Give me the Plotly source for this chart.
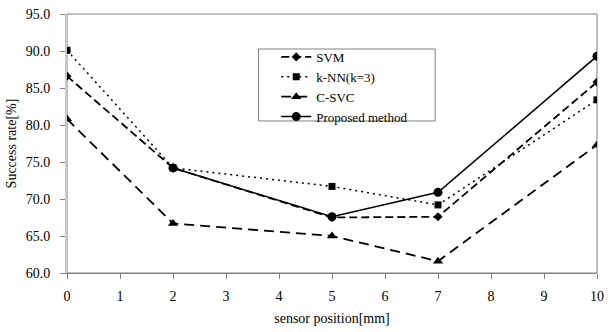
import plotly.graph_objects as go

x_all = [0, 2, 5, 7, 10]
svm = [86.6, 74.2, 67.5, 67.6, 85.8]
knn = [90.1, 74.2, 71.7, 69.2, 83.4]
csvc = [80.8, 66.7, 65.0, 61.6, 77.3]
x_prop = [2, 5, 7, 10]
proposed = [74.2, 67.6, 70.9, 89.3]

y_ticks = [60, 65, 70, 75, 80, 85, 90, 95]
x_ticks = list(range(0, 11))

font_family = "Liberation Serif, Times New Roman, serif"

fig = go.Figure()
fig.add_trace(go.Scatter(x=x_all, y=svm, name="SVM", mode="lines+markers",
                         line=dict(color="black", width=1.8, dash="8px,4px"),
                         marker=dict(symbol="diamond", size=7, color="black")))
fig.add_trace(go.Scatter(x=x_all, y=knn, name="k-NN(k=3)", mode="lines+markers",
                         line=dict(color="black", width=1.5, dash="2px,4px"),
                         marker=dict(symbol="square", size=7, color="black")))
fig.add_trace(go.Scatter(x=x_all, y=csvc, name="C-SVC", mode="lines+markers",
                         line=dict(color="black", width=1.8, dash="10px,6px"),
                         marker=dict(symbol="triangle-up", size=9, color="black")))
fig.add_trace(go.Scatter(x=x_prop, y=proposed, name="Proposed method", mode="lines+markers",
                         line=dict(color="black", width=1.5),
                         marker=dict(symbol="circle", size=9, color="black")))

# plot frame (top/right)
fig.add_shape(type="rect", xref="paper", yref="paper", x0=0, y0=0, x1=1, y1=1,
              line=dict(color="#808080", width=1), layer="below")
# legend frame
fig.add_shape(type="rect", xref="paper", yref="paper", x0=0.3613, y0=0.5869,
              x1=0.6946, y1=0.8649, line=dict(color="#808080", width=1),
              fillcolor="white", layer="below")

fig.update_layout(
    width=611, height=332,
    margin=dict(l=67, r=7, t=14, b=59),
    paper_bgcolor="white", plot_bgcolor="white",
    font=dict(family=font_family, size=14, color="black"),
    showlegend=True,
    legend=dict(x=0.3948, y=0.892, xanchor="left", yanchor="top",
                borderwidth=0, bgcolor="rgba(0,0,0,0)",
                font=dict(family=font_family, size=13),
                tracegroupgap=0, itemwidth=30),
    xaxis=dict(range=[0, 10], tickvals=x_ticks, ticktext=[str(v) for v in x_ticks],
               showgrid=False, zeroline=False, showline=True, linecolor="#808080",
               linewidth=1, ticks="outside", ticklen=5, tickcolor="#808080",
               ticklabelstandoff=5,
               title=dict(text="sensor position[mm]", standoff=10,
                          font=dict(family=font_family, size=14))),
    yaxis=dict(range=[60, 95], tickvals=y_ticks, ticktext=[f"{v:.1f}" for v in y_ticks],
               showgrid=False, zeroline=False, showline=True, linecolor="#c8c8c8",
               linewidth=2, ticks="outside", ticklen=5, tickcolor="#808080",
               ticklabelstandoff=7,
               title=dict(text="Success rate[%]", standoff=6,
                          font=dict(family=font_family, size=14))),
)

fig.write_html("out.html", config={"displayModeBar": False},
               post_script="document.body.style.margin='0';")
